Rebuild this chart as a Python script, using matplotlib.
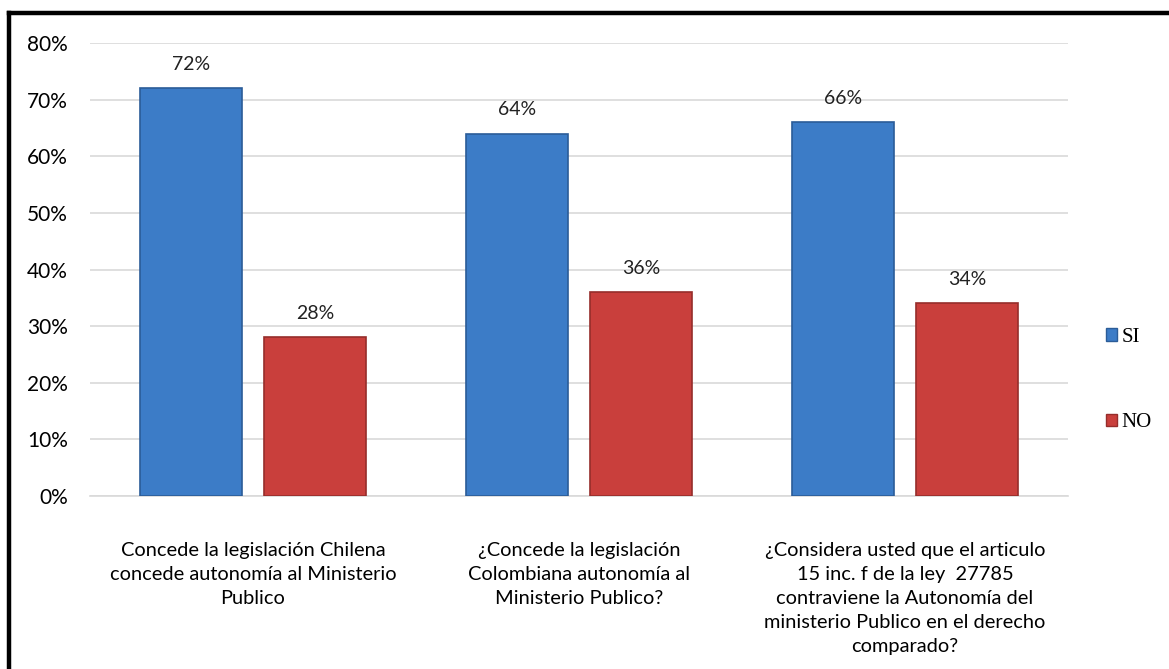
import numpy as np
import matplotlib.pyplot as plt
from matplotlib.patches import Patch
from matplotlib.lines import Line2D

categorias = [
    "Concede la legislación Chilena\nconcede autonomía al Ministerio\nPublico",
    "¿Concede la legislación\nColombiana autonomía al\nMinisterio Publico?",
    "¿Considera usted que el articulo\n15 inc. f de la ley  27785\ncontraviene la Autonomía del\nministerio Publico en el derecho\ncomparado?",
]
si = [72, 64, 66]
no = [28, 36, 34]
series = ["SI", "NO"]
yticks = [0, 10, 20, 30, 40, 50, 60, 70, 80]

cor_si = "#3c7cc7"
cor_no = "#c93f3c"


def main():
    plt.rcParams['font.family'] = ['Lato', 'DejaVu Sans']
    fig = plt.figure(figsize=(11.69, 6.69), dpi=100)
    ax = fig.add_axes([0.077, 0.2586, 0.8366, 0.6771])

    x = np.arange(len(categorias))
    w = 0.313
    off = 0.191

    b1 = ax.bar(x - off, si, w, color=cor_si, edgecolor="#2b5c98", linewidth=1.2, zorder=3)
    b2 = ax.bar(x + off, no, w, color=cor_no, edgecolor="#962d2b", linewidth=1.2, zorder=3)

    for bars in (b1, b2):
        for b in bars:
            ax.annotate(f"{b.get_height():.0f}%",
                        (b.get_x() + b.get_width() / 2, b.get_height()),
                        xytext=(0, 11), textcoords="offset points",
                        ha="center", va="bottom", fontsize=14, color="#222222")

    ax.set_xlim(-0.5, 2.5)
    ax.set_ylim(0, 80)
    ax.set_yticks(yticks)
    ax.set_yticklabels([f"{t}%" for t in yticks])
    ax.set_xticks(x)
    ax.set_xticklabels(categorias, fontsize=14.4, linespacing=1.5, va="top")
    ax.tick_params(axis="y", labelsize=15, length=0, pad=16)
    ax.tick_params(axis="x", length=0, pad=33)
    ax.grid(axis="y", color="#d9d9d9", linewidth=1.2, zorder=0)
    for s in ["top", "right", "left"]:
        ax.spines[s].set_visible(False)
    ax.spines["bottom"].set_color("#d9d9d9")
    ax.spines["bottom"].set_linewidth(1.2)

    handles = [Patch(facecolor=cor_si, edgecolor="#2b5c98"),
               Patch(facecolor=cor_no, edgecolor="#962d2b")]
    fig.legend(handles, series, loc="center left", bbox_to_anchor=(0.930, 0.432),
               frameon=False, handlelength=0.55, handleheight=0.55, handletextpad=0.2,
               labelspacing=3.2, prop={"family": "Liberation Serif", "size": 15})

    # borda preta à esquerda e no topo
    fig.add_artist(Line2D([0.0073, 0.0073], [0, 0.98], transform=fig.transFigure,
                          color="black", linewidth=3.2))
    fig.add_artist(Line2D([0.0073, 1], [0.98, 0.98], transform=fig.transFigure,
                          color="black", linewidth=3.2))

    fig.savefig("out.png", dpi=100, facecolor="white")


if __name__ == '__main__':
    main()
